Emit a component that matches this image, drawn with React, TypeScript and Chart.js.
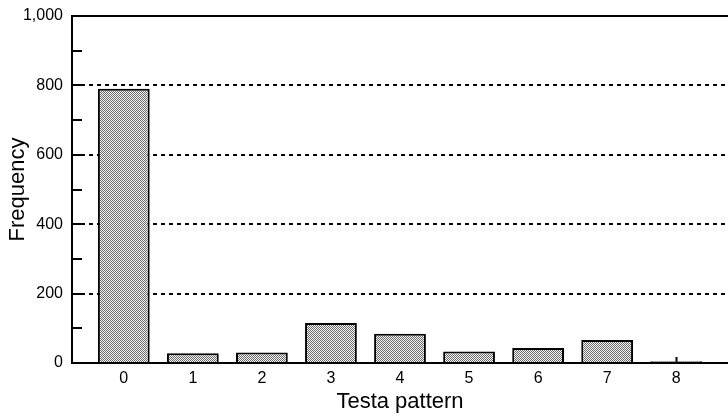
import React, { useEffect, useRef } from "react";
import { Chart, registerables } from "chart.js";

Chart.register(...registerables);

const categories = [0, 1, 2, 3, 4, 5, 6, 7, 8];
const frequencies = [790, 28, 30, 115, 84, 33, 43, 66, 5];
const yTickValues = [0, 200, 400, 600, 800, 1000];
const xTitle = "Testa pattern";
const yTitle = "Frequency";

const FONT = "'Liberation Sans', Arial, Helvetica, sans-serif";

function makePattern(): CanvasPattern | string {
  const c = document.createElement("canvas");
  c.width = 2;
  c.height = 2;
  const g = c.getContext("2d");
  if (!g) return "#bbbbbb";
  g.fillStyle = "#f2f2f2";
  g.fillRect(0, 0, 2, 2);
  g.fillStyle = "#6e6e6e";
  g.fillRect(0, 0, 1, 1);
  g.fillRect(1, 1, 1, 1);
  const p = g.createPattern(c, "repeat");
  return p || "#bbbbbb";
}

export default function App() {
  const ref = useRef<HTMLCanvasElement | null>(null);

  useEffect(() => {
    if (!ref.current) return;
    const chart = new Chart(ref.current, {
      type: "bar",
      data: {
        datasets: [
          {
            data: categories.map((c, i) => ({ x: c, y: frequencies[i] })),
            backgroundColor: makePattern() as any,
            borderColor: "#000",
            borderWidth: 2,
            barPercentage: 0.75,
            categoryPercentage: 1,
          },
        ],
      },
      options: {
        animation: false,
        responsive: true,
        maintainAspectRatio: false,
        layout: { padding: { top: 16, right: 0, left: 0, bottom: 0 } },
        plugins: {
          legend: { display: false },
          tooltip: { enabled: false },
        },
        scales: {
          x: {
            type: "linear",
            min: -0.75,
            max: 8.75,
            offset: false,
            z: 1,
            afterBuildTicks: (scale: any) => {
              scale.ticks = categories.map((v) => ({ value: v }));
            },
            afterFit: (scale: any) => {
              scale.height = 55;
              scale.paddingLeft = 0;
              scale.paddingRight = 0;
            },
            grid: {
              display: true,
              offset: false,
              drawOnChartArea: false,
              drawTicks: true,
              tickLength: -6,
              tickWidth: 2,
              tickColor: "#000",
            },
            border: { display: true, color: "#000", width: 2 },
            ticks: {
              autoSkip: false,
              maxRotation: 0,
              padding: 12,
              color: "#000",
              font: { family: FONT, size: 16 },
              callback: (v: any) => String(v),
            },
            title: {
              display: true,
              text: xTitle,
              color: "#000",
              font: { family: FONT, size: 22 },
              padding: 3,
            },
          },
          y: {
            type: "linear",
            min: 0,
            max: 1000,
            afterFit: (scale: any) => {
              scale.width = 72;
              scale.paddingTop = 0;
              scale.paddingBottom = 0;
            },
            grid: {
              display: true,
              drawOnChartArea: true,
              drawTicks: true,
              tickLength: -10,
              tickWidth: 2,
              tickColor: "#000",
              lineWidth: 2,
              color: (ctx: any) => {
                const v = ctx.tick ? ctx.tick.value : 0;
                return v > 0 && yTickValues.includes(v) ? "#000" : "rgba(0,0,0,0)";
              },
            },
            border: {
              display: true,
              color: "#000",
              width: 2,
              dash: (ctx: any) => {
                const v = ctx.tick ? ctx.tick.value : 0;
                return v === 1000 ? [] : [4, 4];
              },
            } as any,
            ticks: {
              stepSize: 100,
              autoSkip: false,
              padding: 19,
              color: "#000",
              font: { family: FONT, size: 16 },
              callback: (v: any) =>
                yTickValues.includes(Number(v)) ? Number(v).toLocaleString("en-US") : "",
            },
            title: {
              display: true,
              text: yTitle,
              color: "#000",
              font: { family: FONT, size: 22 },
              padding: 5,
            },
          },
        },
      },
    });
    return () => chart.destroy();
  }, []);

  return (
    <div
      style={{
        position: "absolute",
        left: 0,
        top: 0,
        width: 728,
        height: 418,
        background: "#fff",
      }}
    >
      <canvas ref={ref} />
    </div>
  );
}
